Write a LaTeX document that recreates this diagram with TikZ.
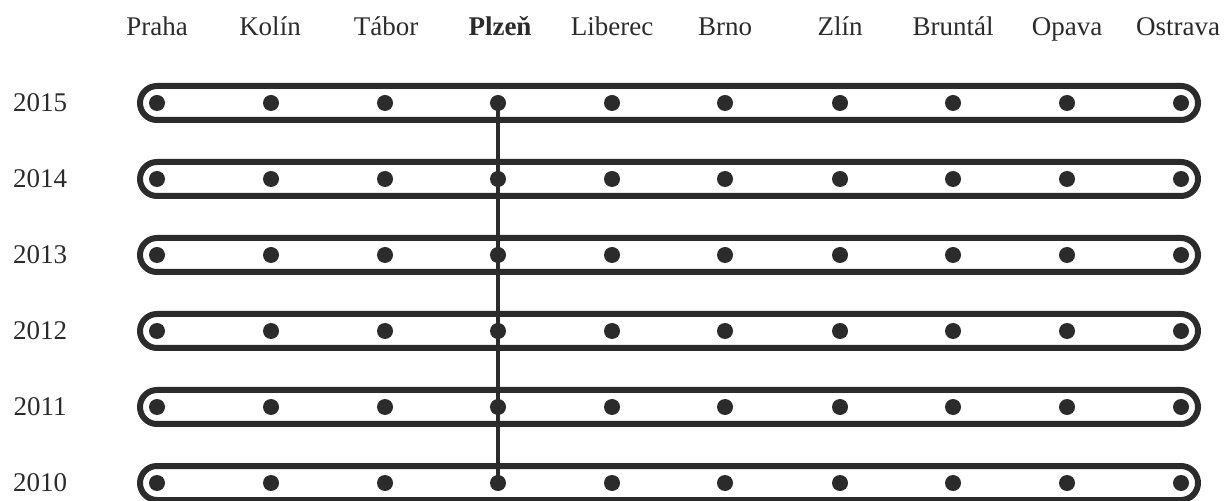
\documentclass[tikz,border=0pt]{standalone}
\usepackage{fontspec}
\setmainfont{Liberation Serif}
\definecolor{ink}{HTML}{2B2B2B}
\begin{document}
\begin{tikzpicture}[x=0.5pt,y=-0.5pt,
  dot/.style={circle,fill=ink,inner sep=0pt,minimum size=8pt},
  pill/.style={draw=ink,line width=3pt,rounded corners=8.5pt},
  lbl/.style={font=\fontsize{13.5}{16}\selectfont,text=ink,inner sep=0pt},
  link/.style={draw=ink,line width=2.4pt}]
\useasboundingbox (0,0) rectangle (1224,501);
% column labels
\foreach \name/\cx [count=\i from 0] in {Praha/157,Kolín/270,Tábor/386,\textbf{Plzeň}/500,Liberec/612,Brno/725,Zlín/840,Bruntál/953,Opava/1067,Ostrava/1178}
  {\node[lbl,anchor=base] (c\i) at (\cx,36) {\name};}
% rows
\foreach \year [count=\r from 0] in {2015,2014,2013,2012,2011,2010}{
  \pgfmathsetmacro{\yy}{103+76*\r}
  \node[lbl] (y\year) at (40,\yy) {\year};
  \draw[pill] (140,\yy-17) rectangle (1198,\yy+17);
  \foreach \x [count=\i from 0] in {157,271,385,498,612,725,840,953,1067,1181}
    {\node[dot] (d\i-\year) at (\x,\yy) {};}
}
\draw[link] (d3-2015.center) -- (d3-2010.center);
\end{tikzpicture}
\end{document}
